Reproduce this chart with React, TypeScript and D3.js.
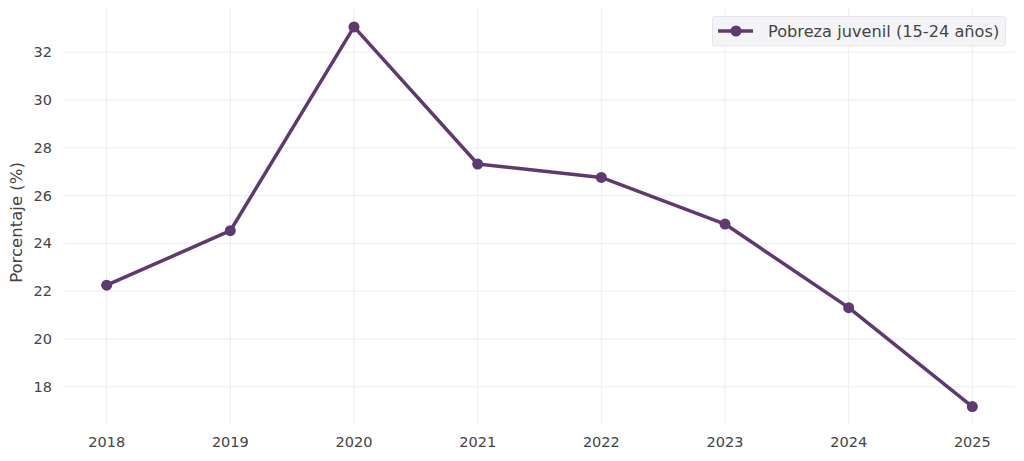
import React from 'react';
import { scaleLinear, line } from 'd3';

const years = [2018, 2019, 2020, 2021, 2022, 2023, 2024, 2025];
const youthPoverty = [22.25, 24.53, 33.06, 27.32, 26.76, 24.81, 21.31, 17.17];
const yTicks = [18, 20, 22, 24, 26, 28, 30, 32];
const seriesName = 'Pobreza juvenil (15-24 años)';
const yLabel = 'Porcentaje (%)';

const W = 1024;
const H = 461;
const plot = { left: 64, right: 1015, top: 8, bottom: 425 };
const color = '#5e3a6e';
const gridColor = '#ececf3';
const textColor = '#444';
const font = '"DejaVu Sans", "Noto Sans", sans-serif';

const App: React.FC = () => {
  const x = scaleLinear().domain([2017.655, 2025.345]).range([plot.left, plot.right]);
  const y = scaleLinear().domain([16.4, 33.85]).range([plot.bottom, plot.top]);

  const path = line<number>()
    .x((_, i) => x(years[i]))
    .y(d => y(d))(youthPoverty);

  return (
    <div style={{ position: 'absolute', left: 0, top: 0 }}>
      <svg width={W} height={H} style={{ display: 'block', background: '#fff' }} fontFamily={font}>
        {/* grid */}
        {years.map(yr => (
          <line key={`vx${yr}`} x1={x(yr)} x2={x(yr)} y1={plot.top} y2={plot.bottom} stroke={gridColor} strokeWidth={1} />
        ))}
        {yTicks.map(t => (
          <line key={`hy${t}`} x1={plot.left} x2={plot.right} y1={y(t)} y2={y(t)} stroke={gridColor} strokeWidth={1} />
        ))}

        {/* y ticks */}
        {yTicks.map(t => (
          <text key={`ty${t}`} x={52} y={y(t)} dy="0.35em" textAnchor="end" fontSize={14.5} fill={textColor}>
            {t}
          </text>
        ))}
        {/* x ticks */}
        {years.map(yr => (
          <text key={`tx${yr}`} x={x(yr)} y={447} textAnchor="middle" fontSize={14.5} fill={textColor}>
            {yr}
          </text>
        ))}
        <text
          transform={`translate(22,${(plot.top + plot.bottom) / 2 + 6}) rotate(-90)`}
          textAnchor="middle"
          fontSize={16.5}
          fill={textColor}
        >
          {yLabel}
        </text>

        {/* series */}
        <path d={path ?? ''} fill="none" stroke={color} strokeWidth={3.5} strokeLinejoin="round" />
        {youthPoverty.map((v, i) => (
          <circle key={years[i]} cx={x(years[i])} cy={y(v)} r={5.5} fill={color} />
        ))}

        {/* legend */}
        <g>
          <rect x={712.5} y={16.5} width={293} height={29.5} fill="#f4f4f6" stroke="#e6e6ea" strokeWidth={1} rx={2} />
          <line x1={718} x2={753} y1={31} y2={31} stroke={color} strokeWidth={3.5} />
          <circle cx={736} cy={31} r={5.5} fill={color} />
          <text x={768} y={31} dy="0.35em" fontSize={16.2} fill={textColor}>
            {seriesName}
          </text>
        </g>
      </svg>
    </div>
  );
};

export default App;
